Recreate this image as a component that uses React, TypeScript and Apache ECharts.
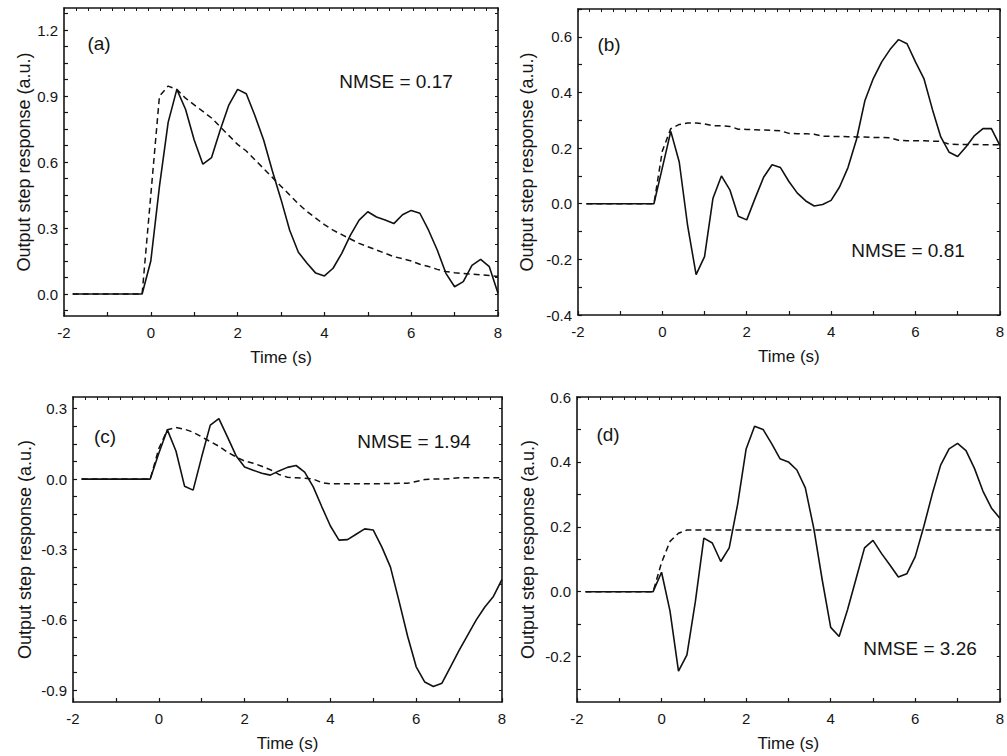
import React, { useEffect, useRef } from "react";
import * as echarts from "echarts";

// Time samples (s)
const TIME = [
  -1.8, -1.6, -1.4, -1.2, -1.0, -0.8, -0.6, -0.4, -0.2,
  0.0, 0.2, 0.4, 0.6, 0.8, 1.0, 1.2, 1.4, 1.6, 1.8,
  2.0, 2.2, 2.4, 2.6, 2.8, 3.0, 3.2, 3.4, 3.6, 3.8,
  4.0, 4.2, 4.4, 4.6, 4.8, 5.0, 5.2, 5.4, 5.6, 5.8,
  6.0, 6.2, 6.4, 6.6, 6.8, 7.0, 7.2, 7.4, 7.6, 7.8, 8.0,
];

const PRE = [0, 0, 0, 0, 0, 0, 0, 0, 0];

// (a) solid and dashed responses
const A_SOLID = [...PRE,
  0.15, 0.49, 0.78, 0.93, 0.84, 0.70, 0.59, 0.62, 0.745, 0.86,
  0.93, 0.91, 0.81, 0.70, 0.56, 0.43, 0.29, 0.19, 0.14, 0.095,
  0.082, 0.117, 0.185, 0.268, 0.336, 0.374, 0.35, 0.336, 0.32, 0.36,
  0.38, 0.367, 0.29, 0.20, 0.094, 0.033, 0.056, 0.13, 0.157, 0.124,
  0.003];
const A_DASH = [...PRE,
  0.45, 0.90, 0.945, 0.93, 0.89, 0.86, 0.83, 0.80, 0.76, 0.72,
  0.68, 0.65, 0.61, 0.57, 0.53, 0.49, 0.45, 0.41, 0.375, 0.345,
  0.315, 0.29, 0.27, 0.25, 0.23, 0.215, 0.20, 0.185, 0.17, 0.16,
  0.15, 0.135, 0.125, 0.112, 0.102, 0.097, 0.093, 0.09, 0.087, 0.084,
  0.08];

// (b)
const B_SOLID = [...PRE,
  0.13, 0.26, 0.15, -0.08, -0.255, -0.19, 0.02, 0.10, 0.05, -0.045,
  -0.058, 0.02, 0.095, 0.14, 0.13, 0.08, 0.038, 0.01, -0.008, -0.003,
  0.012, 0.06, 0.13, 0.23, 0.37, 0.45, 0.51, 0.555, 0.59, 0.575,
  0.51, 0.45, 0.34, 0.24, 0.185, 0.17, 0.205, 0.245, 0.27, 0.27,
  0.21];
const B_DASH = [...PRE,
  0.19, 0.27, 0.285, 0.29, 0.29, 0.287, 0.28, 0.28, 0.278, 0.268,
  0.267, 0.266, 0.265, 0.264, 0.262, 0.253, 0.252, 0.252, 0.25, 0.243,
  0.242, 0.242, 0.241, 0.24, 0.24, 0.238, 0.238, 0.237, 0.228, 0.226,
  0.226, 0.226, 0.225, 0.224, 0.214, 0.213, 0.213, 0.213, 0.212, 0.212,
  0.212];

// (c)
const C_SOLID = [...PRE,
  0.11, 0.21, 0.12, -0.03, -0.047, 0.095, 0.23, 0.258, 0.18, 0.10,
  0.052, 0.038, 0.025, 0.017, 0.035, 0.05, 0.058, 0.03, -0.033, -0.118,
  -0.2, -0.26, -0.258, -0.235, -0.212, -0.217, -0.29, -0.375, -0.52, -0.67,
  -0.8, -0.865, -0.884, -0.87, -0.8, -0.73, -0.665, -0.6, -0.545, -0.5,
  -0.427];
const C_DASH = [...PRE,
  0.13, 0.21, 0.22, 0.213, 0.2, 0.18, 0.16, 0.14, 0.115, 0.095,
  0.077, 0.068, 0.055, 0.04, 0.02, 0.008, 0.006, 0.004, 0.0, -0.015,
  -0.02, -0.02, -0.02, -0.02, -0.02, -0.02, -0.019, -0.019, -0.018, -0.018,
  -0.01, -0.002, 0.0, 0.0, 0.002, 0.006, 0.006, 0.006, 0.006, 0.006,
  0.006];

// (d)
const D_SOLID = [...PRE,
  0.06, -0.06, -0.245, -0.195, -0.03, 0.165, 0.15, 0.093, 0.135, 0.27,
  0.44, 0.51, 0.50, 0.457, 0.41, 0.40, 0.375, 0.32, 0.195, 0.036,
  -0.11, -0.138, -0.055, 0.04, 0.135, 0.158, 0.118, 0.082, 0.045, 0.055,
  0.108, 0.2, 0.3, 0.39, 0.44, 0.457, 0.435, 0.38, 0.31, 0.258,
  0.226];
const D_DASH = [...PRE,
  0.09, 0.155, 0.18, 0.19, 0.19, 0.19, 0.19, 0.19, 0.19, 0.19,
  0.19, 0.19, 0.19, 0.19, 0.19, 0.19, 0.19, 0.19, 0.19, 0.19,
  0.19, 0.19, 0.19, 0.19, 0.19, 0.19, 0.19, 0.19, 0.19, 0.19,
  0.19, 0.19, 0.19, 0.19, 0.19, 0.19, 0.19, 0.19, 0.19, 0.19,
  0.19];

const X_LABELS = [-2, 0, 2, 4, 6, 8];
const Y_LABELS_A = [0.0, 0.3, 0.6, 0.9, 1.2];
const Y_LABELS_B = [-0.4, -0.2, 0.0, 0.2, 0.4, 0.6];
const Y_LABELS_C = [-0.9, -0.6, -0.3, 0.0, 0.3];
const Y_LABELS_D = [-0.2, 0.0, 0.2, 0.4, 0.6];

const PANEL_LABELS = ["(a)", "(b)", "(c)", "(d)"];
const NMSE_LABELS = ["NMSE = 0.17", "NMSE = 0.81", "NMSE = 1.94", "NMSE = 3.26"];

const FONT = "'Liberation Sans', Arial, sans-serif";
const INK = "#151515";

function steps(min: number, max: number, step: number, anchor = 0) {
  const out: number[] = [];
  const k0 = Math.ceil((min - anchor) / step - 1e-9);
  const k1 = Math.floor((max - anchor) / step + 1e-9);
  for (let k = k0; k <= k1; k++) out.push(Math.round((anchor + k * step) * 1e6) / 1e6);
  return out;
}

const zip = (ys: number[]) => TIME.map((t, i) => [t, ys[i]]);

export default function App() {
  const ref = useRef<HTMLDivElement>(null);
  useEffect(() => {
    if (!ref.current) return;
    const chart = echarts.init(ref.current, undefined, { renderer: "svg" });

    const panels = [
      { grid: { left: 64, top: 8, width: 434, height: 308 }, ymin: -0.1, ymax: 1.3, labels: Y_LABELS_A, ystep: 0.075, nameGap: 29, solid: A_SOLID, dash: A_DASH, tag: [99, 43], nmse: [396, 81] },
      { grid: { left: 578, top: 9, width: 432, height: 306 }, ymin: -0.4, ymax: 0.7, labels: Y_LABELS_B, ystep: 0.1, nameGap: 42, solid: B_SOLID, dash: B_DASH, tag: [609, 44], nmse: [908, 250] },
      { grid: { left: 73, top: 397, width: 429, height: 305 }, ymin: -0.95, ymax: 0.35, labels: Y_LABELS_C, ystep: 0.075, nameGap: 39, solid: C_SOLID, dash: C_DASH, tag: [105, 436], nmse: [414, 441] },
      { grid: { left: 577, top: 397, width: 428, height: 305 }, ymin: -0.34, ymax: 0.6, labels: Y_LABELS_D, ystep: 0.1, nameGap: 40, solid: D_SOLID, dash: D_DASH, tag: [608, 434], nmse: [920, 648] },
    ];

    const axisLine = { show: true, onZero: false, lineStyle: { color: INK, width: 1.6 } };
    const grids: any[] = [];
    const xAxes: any[] = [];
    const yAxes: any[] = [];
    const series: any[] = [];
    const graphics: any[] = [];

    panels.forEach((p, g) => {
      grids.push({ ...p.grid, containLabel: false });
      xAxes.push({
        type: "value", gridIndex: g, position: "bottom", min: -2, max: 8, interval: 2,
        axisLine, splitLine: { show: false },
        axisTick: { show: true, inside: true, length: 4, customValues: steps(-2, 8, 1), lineStyle: { color: INK, width: 1.2 } },
        axisLabel: { customValues: X_LABELS, margin: 9, fontSize: 15, color: INK, fontFamily: FONT, formatter: (v: number) => String(v) },
        name: "Time (s)", nameLocation: "middle", nameGap: 33,
        nameTextStyle: { fontSize: 17, color: INK, fontFamily: FONT },
      });
      xAxes.push({
        type: "value", gridIndex: g, position: "top", min: -2, max: 8, interval: 2,
        axisLine, splitLine: { show: false },
        axisTick: { show: true, inside: true, length: 3, customValues: steps(-2, 8, 10 / 36, -2), lineStyle: { color: INK, width: 1 } },
        axisLabel: { show: false },
      });
      const yt = steps(p.ymin, p.ymax, p.ystep);
      yAxes.push({
        type: "value", gridIndex: g, position: "left", min: p.ymin, max: p.ymax,
        axisLine, splitLine: { show: false },
        axisTick: { show: true, inside: true, length: 4, customValues: yt, lineStyle: { color: INK, width: 1.2 } },
        axisLabel: { customValues: p.labels, margin: 6, fontSize: 15, color: INK, fontFamily: FONT, formatter: (v: number) => v.toFixed(1) },
        name: "Output step response (a.u.)", nameLocation: "middle", nameGap: p.nameGap,
        nameTextStyle: { fontSize: 18, color: INK, fontFamily: FONT },
      });
      yAxes.push({
        type: "value", gridIndex: g, position: "right", min: p.ymin, max: p.ymax,
        axisLine, splitLine: { show: false },
        axisTick: { show: true, inside: true, length: 3, customValues: yt, lineStyle: { color: INK, width: 1 } },
        axisLabel: { show: false },
      });
      series.push({
        type: "line", xAxisIndex: 2 * g, yAxisIndex: 2 * g, data: zip(p.dash),
        showSymbol: false, symbol: "none", silent: true,
        lineStyle: { color: "#111", width: 1.5, type: [6, 4] },
      });
      series.push({
        type: "line", xAxisIndex: 2 * g, yAxisIndex: 2 * g, data: zip(p.solid),
        showSymbol: false, symbol: "none", silent: true,
        lineStyle: { color: "#111", width: 1.6 },
      });
      graphics.push({
        type: "text", x: p.tag[0], y: p.tag[1],
        style: { text: PANEL_LABELS[g], fontSize: 19, fill: INK, fontFamily: FONT, align: "center", verticalAlign: "middle" },
      });
      graphics.push({
        type: "text", x: p.nmse[0], y: p.nmse[1],
        style: { text: NMSE_LABELS[g], fontSize: 19, fill: INK, fontFamily: FONT, align: "center", verticalAlign: "middle" },
      });
    });

    chart.setOption({
      animation: false,
      backgroundColor: "#ffffff",
      grid: grids,
      xAxis: xAxes,
      yAxis: yAxes,
      series,
      graphic: graphics,
    });
    return () => chart.dispose();
  }, []);

  return (
    <div
      ref={ref}
      style={{ position: "absolute", left: 0, top: 0, width: 1007, height: 756 }}
    />
  );
}
